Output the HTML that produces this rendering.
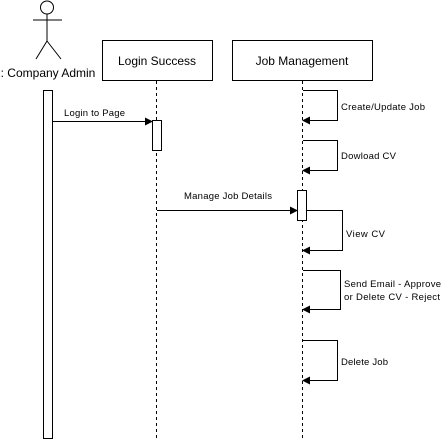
<!DOCTYPE html>
<html><head><meta charset="utf-8"><style>
body{margin:0;background:#fff}
svg{display:block}
text{font-family:"Liberation Sans",sans-serif;fill:#000}
.s{font-size:9.5px}
.b{font-size:12px}
</style></head><body>
<svg width="442" height="442" viewBox="0 0 442 442">
<defs><marker id="a" markerWidth="8" markerHeight="8" refX="7" refY="4" orient="auto" markerUnits="userSpaceOnUse"><path d="M0,0 L8,4 L0,8 z" fill="#000"/></marker></defs>
<g stroke="#000" fill="none" stroke-width="1">
<circle cx="47" cy="7.5" r="6.5" fill="#fff"/>
<line x1="47" y1="14" x2="47" y2="41"/>
<line x1="33" y1="20" x2="62" y2="20"/>
<line x1="47" y1="41" x2="36" y2="59"/>
<line x1="47" y1="41" x2="61" y2="59"/>
<rect x="43.5" y="90.5" width="9" height="348" fill="#fff"/>
<rect x="102.5" y="40.5" width="110" height="40" fill="#fff"/>
<rect x="232.5" y="40.5" width="140" height="40" fill="#fff"/>
<line x1="156.5" y1="81" x2="156.5" y2="438" stroke-dasharray="3,3"/>
<line x1="302.5" y1="81" x2="302.5" y2="438" stroke-dasharray="3,3"/>
<rect x="152.5" y="120.5" width="9" height="30" fill="#fff"/>
<rect x="297.5" y="190.5" width="9" height="30" fill="#fff"/>
<line x1="53" y1="121.5" x2="152" y2="121.5" marker-end="url(#a)"/>
<line x1="157" y1="210.5" x2="297" y2="210.5" marker-end="url(#a)"/>
<polyline points="303,90.5 337.5,90.5 337.5,120.5 303,120.5" marker-end="url(#a)"/>
<polyline points="303,140.5 337.5,140.5 337.5,170.5 303,170.5" marker-end="url(#a)"/>
<polyline points="307,210.5 342.5,210.5 342.5,250.5 303,250.5" marker-end="url(#a)"/>
<polyline points="303,270.5 340.5,270.5 340.5,309.5 303,309.5" marker-end="url(#a)"/>
<polyline points="303,340.5 337.5,340.5 337.5,380.5 303,380.5" marker-end="url(#a)"/>
</g>
<text class="b" x="48" y="77" text-anchor="middle">: Company Admin</text>
<text class="b" x="157" y="65" text-anchor="middle">Login Success</text>
<text class="b" x="302" y="65" text-anchor="middle">Job Management</text>
<text class="s" x="64" y="116" textLength="61">Login to Page</text>
<text class="s" x="184" y="199" textLength="88">Manage Job Details</text>
<text class="s" x="341" y="110" textLength="84">Create/Update Job</text>
<text class="s" x="341" y="159" textLength="55">Dowload CV</text>
<text class="s" x="346" y="237" textLength="39">View CV</text>
<text class="s" x="344" y="287" textLength="97">Send Email - Approve</text>
<text class="s" x="344" y="300" textLength="96">or Delete CV - Reject</text>
<text class="s" x="341" y="365" textLength="47">Delete Job</text>
</svg>
</body></html>
